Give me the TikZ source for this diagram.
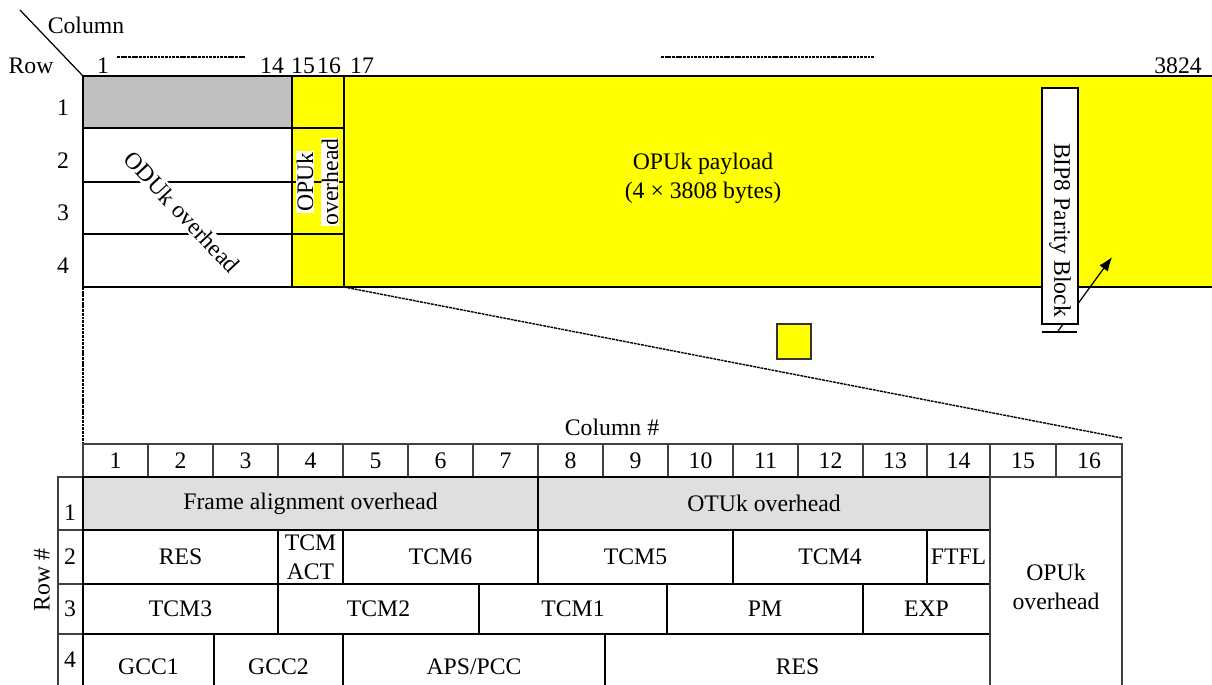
\documentclass[tikz,border=0pt]{standalone}
\usepackage{fontspec}
\setmainfont{Liberation Serif}
\usetikzlibrary{arrows.meta}
\definecolor{opuy}{HTML}{FFFF00}
\definecolor{odugray}{HTML}{C0C0C0}
\definecolor{hdrgray}{HTML}{DFDFDF}
\definecolor{rulegray}{HTML}{404040}

\begin{document}
\begin{tikzpicture}[x=.02cm,y=-.02cm,font=\fontsize{13.5}{16.5}\selectfont,>={Latex[length=8pt,width=6pt]},
  frameln/.style={black,line width=.7pt},
  gridln/.style={rulegray,line width=.6pt},
  cellln/.style={black,line width=1pt},
  projln/.style={black,dash pattern=on 1.6pt off .5pt,line width=.8pt}]
  \clip (0,0) rectangle (1212,684);

  % ODUk frame
  \fill[odugray] (83,76) rectangle (292,128);
  \fill[opuy] (292,76) rectangle (1230,287);
  \draw[frameln] (1230,76) -- (83,76) -- (83,287) -- (1230,287);
  \draw[frameln] (292,76) -- (292,287) (344,76) -- (344,287);
  \foreach \y in {128,182,234}
    \draw[frameln] (83,\y) -- (344,\y);
  \draw[frameln] (20,10) -- (83,76);
  \node (collbl) at (86,25) {Column};
  \node (rowlbl) at (31,66) {Row};
  \foreach \x/\k in {103/1,272/14,303/15,329/16,362/17,1178/3824}
    \node (col\k) at (\x,66) {\k};
  \draw[projln] (117,57) -- (245,57);
  \draw[projln] (661,57) -- (875,57);
  \foreach \rw/\y in {1/108,2/161,3/213,4/266}
    \node (row\rw) at (63,\y) {\rw};
  \node[fill=white,inner sep=1pt,rotate=-47] (odulbl) at (182,212) {ODUk overhead};
  \node[fill=white,inner sep=.5pt,rotate=90] (opulbla) at (305,182) {OPUk};
  \node[fill=white,inner sep=.5pt,rotate=90] (opulblb) at (330,182) {overhead};
  \node[align=center] (payload) at (703,178) {OPUk payload\\(4 × 3808 bytes)};

  % BIP8 parity block
  \coordinate (bipfoot) at (1058,331);
  \coordinate (biptip) at (1112,257);
  \draw[->,line width=.7pt] (bipfoot) -- (biptip);
  \filldraw[fill=white,line width=.6pt] (1042,88) rectangle (1078,324);
  \node[rotate=-90] (bip) at (1060,230) {BIP8 Parity Block};
  \draw[line width=1pt] (1042,332) -- (1077,332);
  \filldraw[fill=opuy,draw=black!80,line width=.7pt] (777,324) rectangle (811,359);

  % zoom lines
  \coordinate (fcorner) at (83,287);
  \coordinate (fcut) at (344,287);
  \coordinate (tcorner) at (83,444);
  \coordinate (tend) at (1122,438);
  \draw[projln] (fcorner) -- (tcorner);
  \draw[projln] (fcut) -- (tend);

  % overhead table
  \node (colhash) at (612,427) {Column \#};
  \node[rotate=90] (rowhash) at (42,580) {Row \#};
  \foreach \xa/\xb/\k in {83/148/1,148/213/2,213/278/3,278/343/4,343/408/5,408/473/6,
      473/538/7,538/603/8,603/668/9,668/733/10,733/798/11,798/863/12,863/927/13,
      927/990/14,990/1056/15,1056/1122/16}{
    \draw[gridln] (\xa,444) rectangle (\xb,477);
    \node (hd\k) at ({(\xa+\xb)/2},461) {\k};
  }
  \fill[hdrgray] (83,477) rectangle (990,530);
  \foreach \rw/\ya/\yb/\ly in {1/477/530/513,2/530/584/557,3/584/634/609,4/634/700/660}{
    \draw[gridln] (58,\ya) rectangle (83,\yb);
    \node (rn\rw) at (70,\ly) {\rw};
  }
  \foreach \xa/\xb/\ya/\yb/\txt/\nm in {
      83/538/477/530/Frame alignment overhead/fas, 538/990/477/530/OTUk overhead/otu,
      83/278/530/584/RES/resa, 278/343/530/584/{TCM\\ACT}/tcmact, 343/538/530/584/TCM6/tcmf,
      538/733/530/584/TCM5/tcme, 733/927/530/584/TCM4/tcmd, 927/990/530/584/FTFL/ftfl,
      83/278/584/634/TCM3/tcmc, 278/479/584/634/TCM2/tcmb, 479/667/584/634/TCM1/tcma,
      667/863/584/634/PM/pm, 863/990/584/634/EXP/exp,
      83/214/634/700/GCC1/gcca, 214/343/634/700/GCC2/gccb, 343/605/634/700/{APS/PCC}/aps,
      605/990/634/700/RES/resb}{
    \draw[cellln] (\xa,\ya) rectangle (\xb,\yb);
    \node[align=center] (\nm) at ({(\xa+\xb)/2},{(\ya+\yb)/2}) {\txt};
  }
  \draw[gridln] (990,477) rectangle (1122,700);
  \node[align=center] (opuhd) at (1056,587) {OPUk\\overhead};
\end{tikzpicture}
\end{document}
